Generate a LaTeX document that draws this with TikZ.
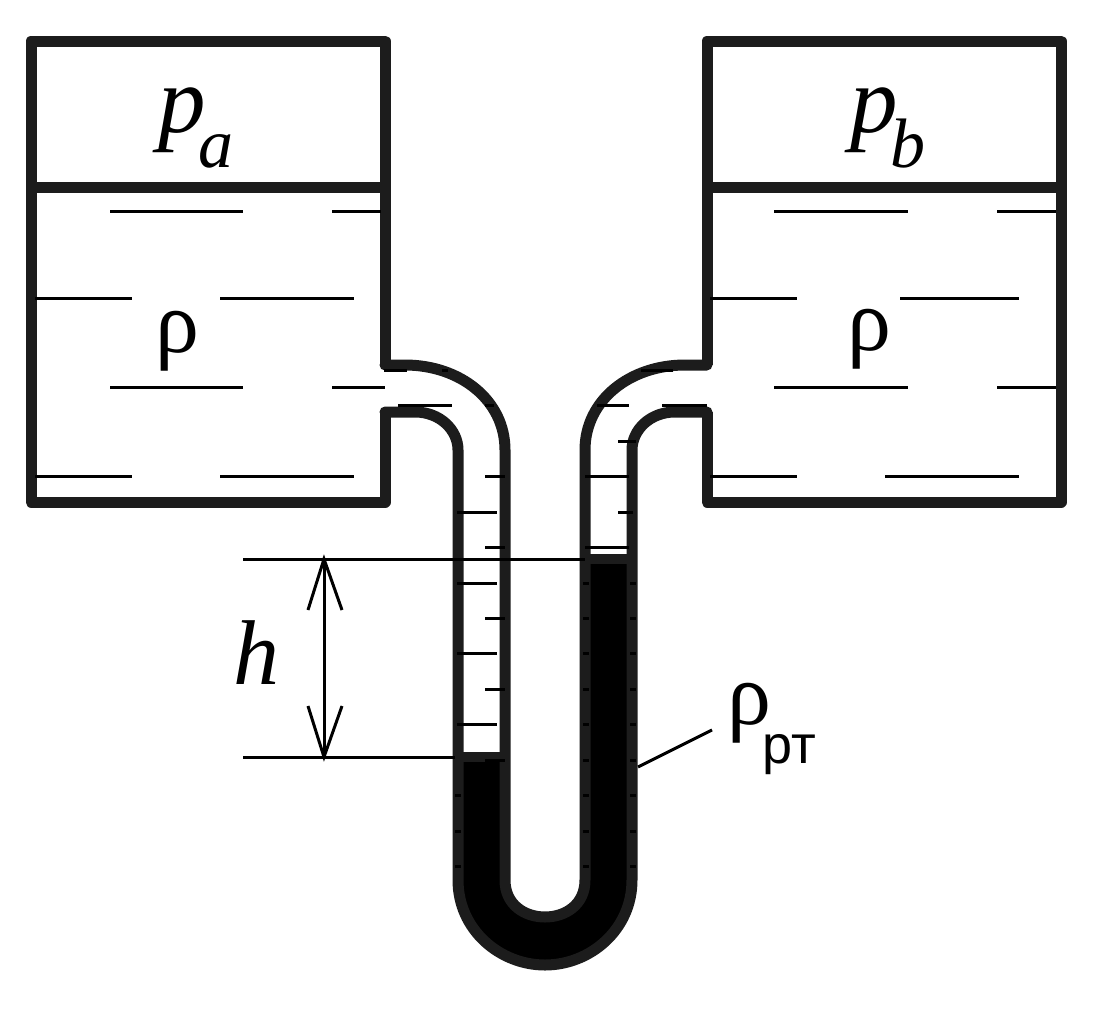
\documentclass[tikz,border=0pt]{standalone}
\usepackage{fontspec}
\setmainfont{Liberation Serif}
\newfontfamily\sansf{Liberation Sans}
\definecolor{wallc}{HTML}{1C1C1C}
\tikzset{
  wall/.style={draw=wallc,line width=11pt,line join=round,line cap=round},
  tank/.style={draw=wallc,line width=11pt,line join=round},
  tick/.style={draw=black,line width=3pt},
  thin dim/.style={draw=black,line width=3pt},
  label/.style={inner sep=0pt,anchor=base west}
}
\begin{document}
\begin{tikzpicture}[x=1pt,y=-1pt]
\useasboundingbox[fill=white] (0,0) rectangle (1098,1009);
% mercury
\fill[black] (458,757) -- (458,880) .. controls (458,930) and (500,965) .. (545,965)
  .. controls (590,965) and (632,930) .. (632,880) -- (632,559) -- (585,559) -- (585,880)
  .. controls (585,905) and (565,917) .. (545,917) .. controls (525,917) and (505,905) .. (505,880)
  -- (505,757) -- cycle;
% tanks
\draw[tank] (385,365) -- (385,41) -- (31,41) -- (31,502) -- (385,502) -- (385,412);
\draw[tank] (31,187) -- (385,187);
\draw[tank] (707,365) -- (707,41) -- (1061,41) -- (1061,502) -- (707,502) -- (707,412);
\draw[tank] (707,187) -- (1061,187);
% tube walls
\draw[wall] (385,365) -- (405,365) .. controls (460,365) and (505,400) .. (505,450) -- (505,880)
  .. controls (505,905) and (525,917) .. (545,917) .. controls (565,917) and (585,905) .. (585,880)
  -- (585,450) .. controls (585,400) and (630,365) .. (685,365) -- (707,365);
\draw[wall] (385,412) -- (415,412) .. controls (440,412) and (458,430) .. (458,450) -- (458,880)
  .. controls (458,930) and (500,965) .. (545,965) .. controls (590,965) and (632,930) .. (632,880)
  -- (632,450) .. controls (632,430) and (650,412) .. (675,412) -- (707,412);
\draw[draw=wallc,line width=10pt] (458,757) -- (505,757);
\draw[draw=wallc,line width=10pt] (585,559) -- (632,559);
% tank hatching
\foreach \ya/\yb in {211/387}{
  \draw[tick] (110,\ya) -- (243,\ya) (332,\ya) -- (381,\ya);
  \draw[tick] (110,\yb) -- (243,\yb) (332,\yb) -- (385,\yb);
  \draw[tick] (774,\ya) -- (908,\ya) (997,\ya) -- (1056,\ya);
  \draw[tick] (774,\yb) -- (908,\yb) (997,\yb) -- (1056,\yb);
}
\foreach \y in {298,476}{
  \draw[tick] (35,\y) -- (132,\y) (220,\y) -- (354,\y);
}
\draw[tick] (710,298) -- (797,298) (900,298) -- (1019,298);
\draw[tick] (710,476) -- (797,476) (885,476) -- (1019,476);
% pipe hatching
\draw[tick] (384,370) -- (407,370) (442,370) -- (448,370) (641,370) -- (673,370);
\draw[tick] (398,405) -- (452,405) (485,405) -- (494,405) (597,405) -- (629,405) (662,405) -- (707,405);
\draw[tick] (618,441) -- (636,441);
% tube scale, left
\foreach \y in {512,583,653,724}{\draw[tick] (457,\y) -- (497,\y);}
\foreach \y in {476,547,618,689,760}{\draw[tick] (485,\y) -- (505,\y);}
\foreach \y in {795,866,831}{\draw[tick] (455,\y) -- (461,\y);}
% tube scale, right
\foreach \y in {476,547}{\draw[tick] (585,\y) -- (629,\y);}
\draw[tick] (618,512) -- (633,512);
\foreach \y in {583,618,653,689,724,760,795,831,866}{\draw[tick] (583,\y) -- (589,\y) (630,\y) -- (636,\y);}
% dimension
\coordinate (hi) at (324,559);
\coordinate (lo) at (324,757);
\draw[thin dim] (243,559) -- (585,559);
\draw[thin dim] (243,757) -- (455,757);
\draw[thin dim] (hi) -- (lo);
\draw[thin dim] (308,610) -- (hi) -- (342,610);
\draw[thin dim] (308,706) -- (lo) -- (342,706);
% labels
\node[label] (pa) at (158,132) {\fontsize{95}{95}\selectfont\itshape p\kern-7pt\raisebox{-35pt}{\fontsize{70}{70}\selectfont a}};
\node[label] (pb) at (850,132) {\fontsize{95}{95}\selectfont\itshape p\kern-7pt\raisebox{-35pt}{\fontsize{70}{70}\selectfont b}};
\node[label] (rl) at (155,352) {\fontsize{88}{88}\selectfont ρ};
\node[label] (rr) at (847,350) {\fontsize{88}{88}\selectfont ρ};
\node[label] (h) at (233,684) {\fontsize{92}{92}\selectfont\itshape h};
\node[label] (rm) at (727,724) {\fontsize{88}{88}\selectfont ρ\kern-9pt\raisebox{-39pt}{\sansf\fontsize{54}{54}\selectfont рт}};
\coordinate (lead) at (638,767);
\draw[thin dim] (lead) -- (712,730);
\end{tikzpicture}
\end{document}
